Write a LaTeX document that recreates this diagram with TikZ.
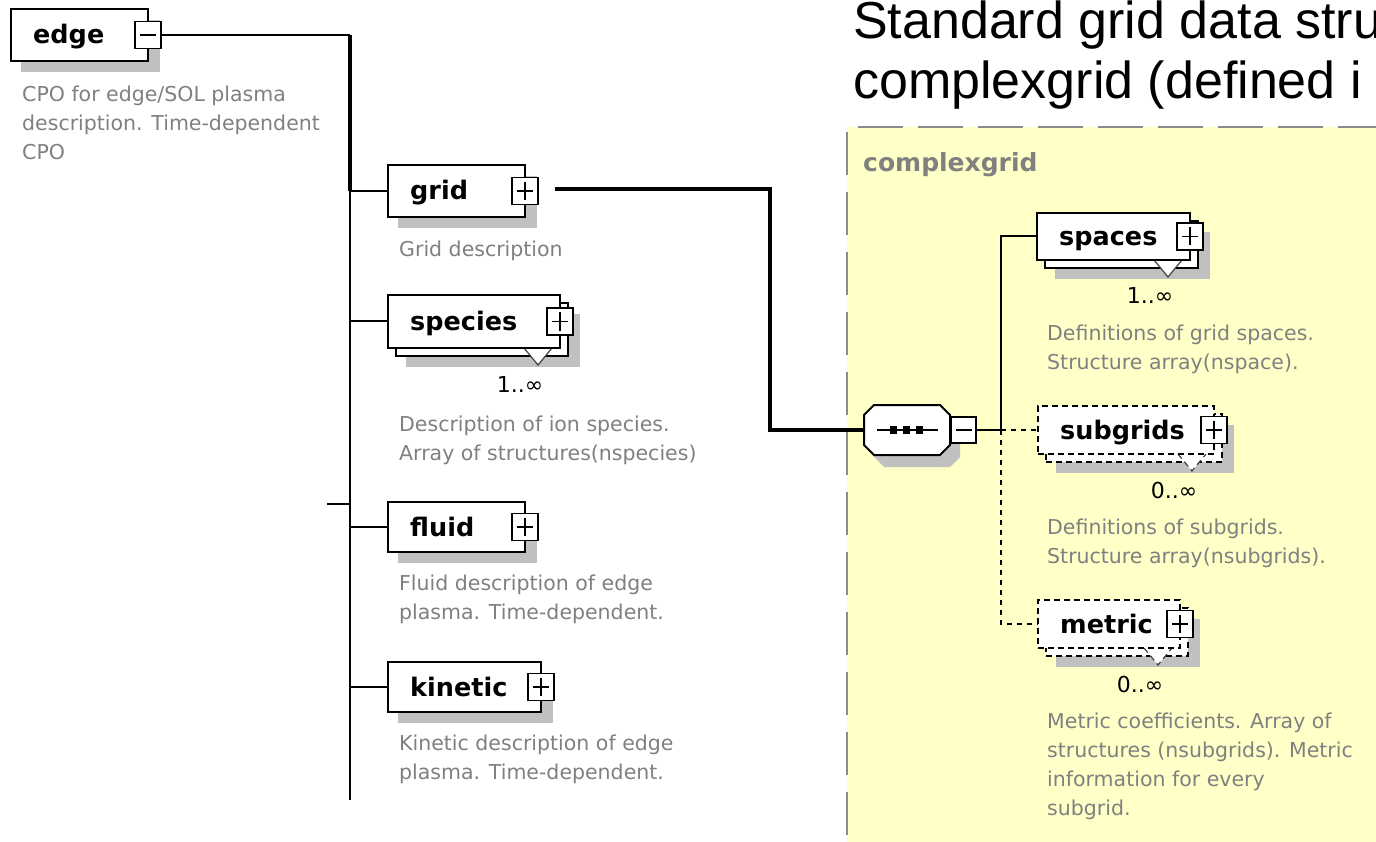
\documentclass[tikz,border=0pt]{standalone}
\usepackage{fontspec}
\setmainfont{DejaVu Sans}
\newfontfamily\titlefont{Liberation Sans}
\definecolor{shadowc}{RGB}{192,192,192}
\definecolor{descc}{RGB}{128,128,128}
\definecolor{regionc}{RGB}{255,255,200}
\definecolor{regionb}{RGB}{140,140,140}
\tikzset{
  elbox/.style={draw=black,line width=2pt,fill=white,inner sep=0pt,outer sep=0pt,anchor=north west},
  dashedbox/.style={dash pattern=on 6pt off 4pt},
  solidbox/.style={},
  pmbox/.style={draw=black,line width=1.8pt,fill=white,minimum width=26pt,minimum height=27pt,inner sep=0pt,outer sep=0pt},
  pm/.style={line width=1.8pt},
  lbl/.style={font=\fontsize{25.5}{30}\selectfont\bfseries,inner sep=0pt,anchor=base west},
  regionlbl/.style={font=\fontsize{25}{30}\selectfont\bfseries,text=descc,inner sep=0pt,anchor=base west},
  desc/.style={font=\fontsize{20.5}{28.8}\selectfont,text=descc,align=left,inner sep=0pt,anchor=north west,execute at begin node={\rule{0pt}{17pt}}},
  mult/.style={font=\fontsize{22}{26}\selectfont,inner sep=0pt,anchor=base},
  titlet/.style={font=\titlefont\fontsize{52}{60}\selectfont,inner sep=0pt,anchor=base west},
  conn/.style={line width=2pt},
  dconn/.style={line width=2pt,dash pattern=on 5pt off 5pt},
  bigconn/.style={line width=3.5pt},
  vmark/.style={draw=black!75,line width=1.2pt},
}
\newcommand\xsdminus[1]{\draw[pm] ([xshift=-8pt]#1.center) -- ([xshift=8pt]#1.center);}
\newcommand\xsdplus[1]{\xsdminus{#1}\draw[pm] ([yshift=-9pt]#1.center) -- ([yshift=9pt]#1.center);}
% single element box: name, label, x1, y1, x2, y2, sign macro
\newcommand\xsdbox[7]{%
  \fill[shadowc] ({#3+10},{#4+11}) rectangle ({#5+12},{#6+11});
  \node[elbox,minimum width={#5-#3},minimum height={#6-#4}] (#1) at (#3,#4) {};
  \node[lbl] (#1-t) at ({#3+22},{(#4+#6)/2+9}) {#2};
  \node[pmbox] (#1-p) at (#5,{(#4+#6)/2}) {};
  #7{#1-p}%
}
% repeated element box: name, label, x1, y1, x2, y2, style, multiplicity
\newcommand\xsdstack[8]{%
  \fill[shadowc] ({#3+18},{#4+19}) rectangle ({#5+20},{#6+19});
  \node[elbox,#7,minimum width={#5-#3},minimum height={#6-#4}] (#1-back) at ({#3+8},{#4+8}) {};
  \fill[white] ({#5-36},#6) -- ({#5-22},{#6+17}) -- ({#5-8},#6) -- cycle;
  \draw[vmark,#7] ({#5-36},#6) -- ({#5-22},{#6+17}) -- ({#5-8},#6);
  \node[elbox,#7,minimum width={#5-#3},minimum height={#6-#4}] (#1) at (#3,#4) {};
  \node[lbl] (#1-t) at ({#3+22},{(#4+#6)/2+9}) {#2};
  \node[pmbox] (#1-p) at (#5,{(#4+#6)/2}) {};
  \xsdplus{#1-p}%
  \node[mult] (#1-m) at ({#5-40},{#6+44}) {#8};
}
\begin{document}
\begin{tikzpicture}[x=1pt,y=-1pt]
\useasboundingbox (0,0) rectangle (1376,842);
\fill[white] (0,0) rectangle (1376,842);
\begin{scope}
\clip (0,0) rectangle (1376,842);
% complexgrid region
\fill[regionc] (847,127) rectangle (1380,846);
\draw[regionb,line width=2pt,dash pattern=on 45pt off 15pt] (858,127) -- (1380,127);
\draw[regionb,line width=2pt,dash pattern=on 43pt off 17pt] (847,132) -- (847,846);
\node[regionlbl] (cgtitle) at (863,172) {complexgrid};
% title
\node[titlet] (title1) at (853,39) {Standard grid data stru};
\node[titlet] (title2) at (853,99) {complexgrid (defined i};

% trunk coordinates
\coordinate (trunktop) at (350,35);
\coordinate (trunkbot) at (350,800);
\coordinate (stubL) at (327,504);

% edge element
\xsdbox{edgeel}{edge}{11}{9}{148}{61}{\xsdminus}
\node[desc] (edgeel-d) at (22,86) {CPO for edge/SOL plasma\\description. Time-dependent\\CPO};

% children of edge
\xsdbox{grid}{grid}{388}{165}{525}{217}{\xsdplus}
\node[desc] (grid-d) at (399,239) {Grid description};
\xsdstack{species}{species}{388}{295}{560}{348}{solidbox}{1..∞}
\node[desc] (species-d) at (399,416) {Description of ion species.\\Array of structures(nspecies)};
\xsdbox{fluid}{fluid}{388}{502}{525}{552}{\xsdplus}
\node[desc] (fluid-d) at (399,575) {Fluid description of edge\\plasma. Time-dependent.};
\xsdbox{kinetic}{kinetic}{388}{662}{541}{712}{\xsdplus}
\node[desc] (kinetic-d) at (399,735) {Kinetic description of edge\\plasma. Time-dependent.};

% trunk connectors
\draw[conn] (edgeel-p.east) -- (trunktop);
\draw[bigconn] (trunktop) -- (trunktop |- grid.west);
\draw[conn] (trunktop |- grid.west) -- (trunkbot);
\draw[conn] (grid.west) -- (grid.west -| trunktop);
\draw[conn] (species.west) -- (species.west -| trunktop);
\draw[conn] (fluid.west) -- (fluid.west -| trunktop);
\draw[conn] (kinetic.west) -- (kinetic.west -| trunktop);
\draw[conn] (stubL) -- (stubL -| trunktop);

% sequence compositor
\fill[shadowc] (874,427) -- (884,417) -- (950,417) -- (960,427) -- (960,457) -- (950,467) -- (884,467) -- (874,457) -- cycle;
\draw[line width=2pt,fill=white] (864,415) -- (874,405) -- (940,405) -- (950,415) -- (950,445) -- (940,455) -- (874,455) -- (864,445) -- cycle;
\node[inner sep=0pt,minimum width=86pt,minimum height=50pt] (seq) at (907,430) {};
\draw[line width=1.8pt] (877,430) -- (938,430);
\fill (890,426) rectangle (897,434);
\fill (903,426) rectangle (910,434);
\fill (916,426) rectangle (923,434);
\node[pmbox,minimum width=25pt,minimum height=26pt] (seq-p) at (963.5,430) {};
\xsdminus{seq-p}

% grid -> complexgrid
\coordinate (gridout) at (555,189);
\coordinate (bend) at (770,189);
\draw[bigconn] (gridout) -- (bend) |- (seq.west);

% complexgrid children
\xsdstack{spaces}{spaces}{1037}{213}{1190}{260}{solidbox}{1..∞}
\node[desc] (spaces-d) at (1047,325) {Definitions of grid spaces.\\Structure array(nspace).};
\xsdstack{subgrids}{subgrids}{1038}{406}{1214}{454}{dashedbox}{0..∞}
\node[desc] (subgrids-d) at (1047,519) {Definitions of subgrids.\\Structure array(nsubgrids).};
\xsdstack{metric}{metric}{1038}{600}{1180}{648}{dashedbox}{0..∞}
\node[desc] (metric-d) at (1047,713) {Metric coefficients. Array of\\structures (nsubgrids). Metric\\information for every\\subgrid.};

\coordinate (junc) at (1001,430);
\draw[conn] (seq-p.east) -- (junc);
\draw[conn] (junc) |- (spaces.west);
\draw[dconn] (junc) -- (subgrids.west);
\draw[dconn] (junc) |- (metric.west);
\end{scope}
\end{tikzpicture}
\end{document}
